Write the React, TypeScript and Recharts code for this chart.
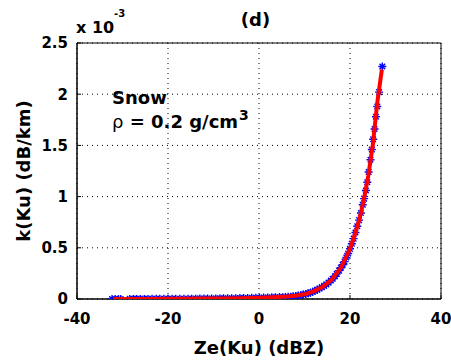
import { FC } from 'react';
import { CartesianGrid, ComposedChart, ReferenceArea, Scatter, XAxis, YAxis } from 'recharts';

// Ze in dBZ, k in units of 1e-3 dB/km (the axis carries the "x 10^-3" factor)
const zeObs = [
  -32.3, -31.6, -30.9, -30.4, -28.4, -27.6, -26.9, -26.1, -25.2, -24.4, -23.5, -22.6, -21.8, -20.9, -20.0,
  -19.1, -18.3, -17.4, -16.5, -15.6, -14.8, -13.9, -13.0, -12.1, -11.3, -10.4, -9.5, -8.6, -7.8, -6.9, -6.0,
  -5.1, -4.2, -3.4, -2.5, -1.6, -0.7, 0.1, 1.0, 1.9, 2.8, 3.6, 4.5,
  5.2, 5.8, 6.4, 7.0, 7.5, 8.1, 8.6, 9.2, 9.7, 10.3, 10.8, 11.3, 11.8, 12.3, 12.8, 13.3, 13.8, 14.3, 14.8,
  15.3, 15.8, 16.2, 16.7, 17.1, 17.6, 18.0, 18.4, 18.8, 19.2, 19.6, 20.0, 20.4, 20.8, 21.2, 21.6, 22.0,
  22.4, 22.8, 23.1, 23.5, 23.8, 24.1, 24.5, 24.8, 25.1, 25.4, 25.7, 26.0, 26.4, 27.1
];
const kObs = [
  0.0004, 0.0005, 0.0005, 0.0006, 0.0008, 0.0008, 0.0009, 0.001, 0.0011, 0.0012, 0.0013, 0.0014, 0.0016, 0.0017,
  0.0018, 0.002, 0.0022, 0.0024, 0.0026, 0.0029, 0.0031, 0.0034, 0.0037, 0.004, 0.0044, 0.0048, 0.0052, 0.0057,
  0.0062, 0.0067, 0.0073, 0.008, 0.0087, 0.0094, 0.0102, 0.011, 0.0119, 0.0128, 0.0138, 0.0149, 0.016, 0.0172,
  0.0185,
  0.016, 0.019, 0.021, 0.023, 0.026, 0.03, 0.034, 0.038, 0.043, 0.05, 0.055, 0.062, 0.071, 0.08, 0.09, 0.102,
  0.114, 0.128, 0.143, 0.16, 0.18, 0.198, 0.222, 0.245, 0.277, 0.305, 0.335, 0.365, 0.405, 0.445, 0.49, 0.54,
  0.59, 0.65, 0.71, 0.77, 0.84, 0.92, 0.98, 1.06, 1.14, 1.24, 1.36, 1.46, 1.56, 1.66, 1.78, 1.88, 2.02, 2.27
];

const zeFit = [-32, -28, -24, -20, -16, -12, -8, -4, 0, 2, 4, 6, 8, 10, 12, 14, 16, 18, 20, 21, 22, 23, 24, 25, 26, 27];
const kFit = [
  0.0005, 0.0008, 0.0012, 0.0018, 0.0027, 0.004, 0.006, 0.0085, 0.012, 0.015, 0.019, 0.024, 0.032, 0.046, 0.075,
  0.12, 0.19, 0.305, 0.49, 0.62, 0.77, 0.96, 1.2, 1.5, 1.92, 2.24
];

const xTicks = [-40, -20, 0, 20, 40];
const yTicks = [0, 0.5, 1, 1.5, 2, 2.5];

const obsData = zeObs.map((ze, i) => ({ ze, k: kObs[i] }));
const fitData = zeFit.map((ze, i) => ({ ze, k: kFit[i] }));

const FONT = "'DejaVu Sans', sans-serif";
const tickStyle = { fontFamily: FONT, fontSize: 15, fontWeight: 'bold', fill: '#000' };

// matlab style '*' marker
const Star: FC<any> = ({ cx, cy }) => {
  const r = 4;
  const d = r * 0.7;
  return (
    <path
      d={`M${cx - r},${cy}L${cx + r},${cy}M${cx},${cy - r}L${cx},${cy + r}M${cx - d},${cy - d}L${cx + d},${cy + d}M${cx - d},${cy + d}L${cx + d},${cy - d}`}
      stroke="#0000ff"
      strokeWidth={1.4}
      fill="none"
    />
  );
};

const NoDot: FC<any> = () => null;

const App: FC = () => {
  return (
    <div style={{ position: 'absolute', left: 0, top: 0, width: 451, height: 362, background: '#fff' }}>
      <ComposedChart width={451} height={362} margin={{ top: 43, right: 10, bottom: 0, left: 0 }}>
        <CartesianGrid stroke="#000" strokeDasharray="1 4" />
        <XAxis
          type="number"
          dataKey="ze"
          domain={[-40, 40]}
          ticks={xTicks}
          interval={0}
          allowDataOverflow
          height={63}
          tickSize={-4}
          tickMargin={18}
          tickLine={{ stroke: '#000' }}
          axisLine={{ stroke: '#000' }}
          tick={tickStyle}
          label={{
            value: 'Ze(Ku) (dBZ)',
            position: 'insideBottom',
            offset: 8,
            style: { fontFamily: FONT, fontSize: 18, fontWeight: 'bold', fill: '#000' }
          }}
        />
        <XAxis
          xAxisId="top"
          orientation="top"
          type="number"
          domain={[-40, 40]}
          ticks={xTicks}
          interval={0}
          height={0}
          tickSize={-4}
          tickLine={{ stroke: '#000' }}
          axisLine={{ stroke: '#000' }}
          tickFormatter={() => ''}
        />
        <YAxis
          type="number"
          dataKey="k"
          domain={[0, 2.5]}
          ticks={yTicks}
          interval={0}
          allowDataOverflow
          width={77}
          tickSize={-4}
          tickMargin={13}
          tickLine={{ stroke: '#000' }}
          axisLine={{ stroke: '#000' }}
          tick={tickStyle}
          label={{
            value: 'k(Ku) (dB/km)',
            position: 'insideLeft',
            angle: -90,
            offset: 24,
            style: { fontFamily: FONT, fontSize: 18, fontWeight: 'bold', fill: '#000', textAnchor: 'middle' }
          }}
        />
        <YAxis
          yAxisId="right"
          orientation="right"
          type="number"
          domain={[0, 2.5]}
          ticks={yTicks}
          interval={0}
          width={0}
          tickSize={-4}
          tickLine={{ stroke: '#000' }}
          axisLine={{ stroke: '#000' }}
          tickFormatter={() => ''}
        />
        <ReferenceArea x1={-40} x2={40} y1={0} y2={2.5} fill="none" stroke="#000" strokeWidth={1} />
        <Scatter data={obsData} dataKey="k" shape={<Star />} isAnimationActive={false} />
        <Scatter
          data={fitData}
          dataKey="k"
          shape={<NoDot />}
          line={{ stroke: '#ff0000', strokeWidth: 4 }}
          lineType="joint"
          isAnimationActive={false}
        />
      </ComposedChart>
      <svg
        width={451}
        height={362}
        style={{ position: 'absolute', left: 0, top: 0, pointerEvents: 'none' }}
        fontFamily={FONT}
        fontWeight="bold"
      >
        <text x={255.5} y={26} fontSize={18} textAnchor="middle">
          (d)
        </text>
        <text x={76} y={33} fontSize={16}>
          x 10
        </text>
        <text x={114} y={17} fontSize={10}>
          -3
        </text>
        <text x={112} y={104} fontSize={18}>
          Snow
        </text>
        <text x={112} y={128} fontSize={18}>
          <tspan fontWeight="normal">ρ</tspan> = 0.2 g/cm
        </text>
        <text x={239} y={120} fontSize={14}>
          3
        </text>
      </svg>
    </div>
  );
};

export default App;
